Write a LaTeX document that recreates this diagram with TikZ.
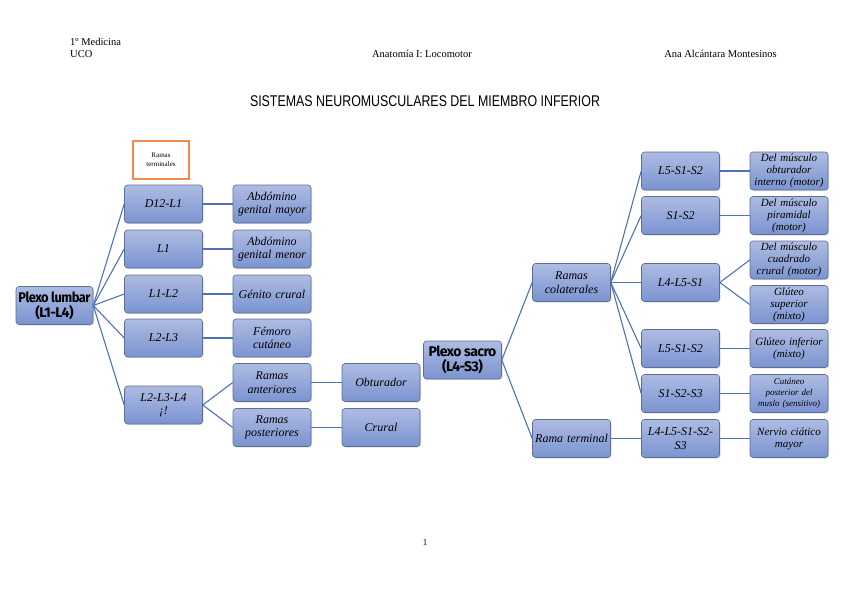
\documentclass[tikz,border=0pt]{standalone}
\usepackage{fontspec}
\setmainfont{Liberation Serif}
\newfontfamily\titlefont{Liberation Sans}
\newfontfamily\plexofont[LetterSpace=-4]{Fira Sans}
\usetikzlibrary{shadows}
\definecolor{boxtop}{HTML}{AEBCE3}
\definecolor{boxbottom}{HTML}{7A93D0}
\definecolor{boxedge}{HTML}{5D6E92}
\definecolor{linkblue}{HTML}{4E72B8}
\definecolor{noteorange}{HTML}{EC8B4C}
\newcommand{\nohyph}{\hyphenpenalty=10000\exhyphenpenalty=10000}

\begin{document}
\begin{tikzpicture}[
    x=1pt, y=-1pt,
    nbox/.style={rectangle, rounded corners=3pt, draw=boxedge, line width=0.6pt,
        top color=boxtop, bottom color=boxbottom,
        drop shadow={opacity=0.25, shadow xshift=1pt, shadow yshift=-1pt},
        minimum width=78pt, minimum height=38pt, text width=76pt, align=center,
        inner sep=1pt, font=\fontsize{12}{13.5}\selectfont\itshape\nohyph},
    small/.style={font=\fontsize{11}{12}\selectfont\itshape\nohyph},
    tiny/.style={font=\fontsize{9}{11}\selectfont\itshape\nohyph},
    plexo/.style={nbox, text width={}, font=\fontsize{14}{15}\selectfont\plexofont\bfseries},
    link/.style={draw=linkblue, line width=1.1pt},
    head/.style={font=\fontsize{10.5}{12}\selectfont, inner sep=0pt}
]
\useasboundingbox (0,0) rectangle (848,599);

% 1. Page header
\node[head, anchor=west] (curso) at (70,42) {1º Medicina};
\node[head, anchor=west] (uco) at (70,54) {UCO};
\node[head] (asig) at (422,54) {Anatomía I: Locomotor};
\node[head, anchor=east] (autora) at (777,54) {Ana Alcántara Montesinos};

% 2. Title
\node[inner sep=0pt] (titulo) at (425,101)
    {\scalebox{0.8}[1]{\fontsize{15.5}{17}\selectfont\titlefont SISTEMAS NEUROMUSCULARES DEL MIEMBRO INFERIOR}};

% 3. Note box
\node[draw=noteorange, line width=1.2pt, fill=white, minimum width=56pt, minimum height=38pt,
    align=center, font=\fontsize{7}{9}\selectfont] (nota) at (161,160) {Ramas\\terminales};

% 4. Plexo lumbar
\node[plexo, minimum width=77pt] (lumbar) at (54.5,305.5)
    {\scalebox{0.92}[1]{Plexo lumbar}\\(L1-L4)};

\node[nbox] (d12l1) at (163.5,204) {D12-L1};
\node[nbox] (l1) at (163.5,249) {L1};
\node[nbox] (l1l2) at (163.5,294) {L1-L2};
\node[nbox] (l2l3) at (163.5,338) {L2-L3};
\node[nbox] (l2l3l4) at (163.5,405) {L2-L3-L4\\¡!};

\node[nbox] (abdmayor) at (272,204) {Abdómino\\genital mayor};
\node[nbox] (abdmenor) at (272,249) {Abdómino\\genital menor};
\node[nbox] (genito) at (272,294) {Génito crural};
\node[nbox] (femoro) at (272,338) {Fémoro\\cutáneo};
\node[nbox] (anteriores) at (272,382.5) {Ramas\\anteriores};
\node[nbox] (posteriores) at (272,427.5) {Ramas\\posteriores};

\node[nbox] (obturador) at (381,382.5) {Obturador};
\node[nbox] (crural) at (381,427.5) {Crural};

\foreach \n in {d12l1, l1, l1l2, l2l3, l2l3l4}
    \draw[link] (lumbar.east) -- (\n.west);
\draw[link] (d12l1) -- (abdmayor);
\draw[link] (l1) -- (abdmenor);
\draw[link] (l1l2) -- (genito);
\draw[link] (l2l3) -- (femoro);
\draw[link] (l2l3l4.east) -- (anteriores.west);
\draw[link] (l2l3l4.east) -- (posteriores.west);
\draw[link] (anteriores) -- (obturador);
\draw[link] (posteriores) -- (crural);

% 5. Plexo sacro
\node[plexo] (sacro) at (462.5,360) {Plexo sacro\\(L4-S3)};

\node[nbox] (colaterales) at (571.5,282.5) {Ramas\\colaterales};
\node[nbox] (terminal) at (571.5,438.5) {Rama terminal};

\node[nbox] (sa) at (680.5,171) {L5-S1-S2};
\node[nbox] (sb) at (680.5,215.5) {S1-S2};
\node[nbox] (sc) at (680.5,282.5) {L4-L5-S1};
\node[nbox] (sd) at (680.5,348.5) {L5-S1-S2};
\node[nbox] (se) at (680.5,393.5) {S1-S2-S3};
\node[nbox] (sf) at (680.5,438.5) {L4-L5-S1-S2-\\S3};

\node[nbox, small] (obtint) at (789,171) {Del músculo\\obturador\\interno (motor)};
\node[nbox, small] (piram) at (789,215.5) {Del músculo\\piramidal\\(motor)};
\node[nbox, small] (cuadr) at (789,260) {Del músculo\\cuadrado\\crural (motor)};
\node[nbox, small] (glsup) at (789,304.5) {Glúteo\\superior\\(mixto)};
\node[nbox, small] (glinf) at (789,348.5) {Glúteo inferior\\(mixto)};
\node[nbox, tiny] (cutpost) at (789,393.5) {Cutáneo\\posterior del\\muslo (sensitivo)};
\node[nbox, small] (ciatico) at (789,438.5) {Nervio ciático\\mayor};

\draw[link] (sacro.east) -- (colaterales.west);
\draw[link] (sacro.east) -- (terminal.west);
\foreach \n in {sa, sb, sc, sd, se}
    \draw[link] (colaterales.east) -- (\n.west);
\draw[link] (terminal) -- (sf);
\draw[link] (sa) -- (obtint);
\draw[link] (sb) -- (piram);
\draw[link] (sc.east) -- (cuadr.west);
\draw[link] (sc.east) -- (glsup.west);
\draw[link] (sd) -- (glinf);
\draw[link] (se) -- (cutpost);
\draw[link] (sf) -- (ciatico);

% 6. Page number
\node[head, font=\fontsize{9}{10}\selectfont] (pagina) at (425,543) {1};

\end{tikzpicture}
\end{document}
